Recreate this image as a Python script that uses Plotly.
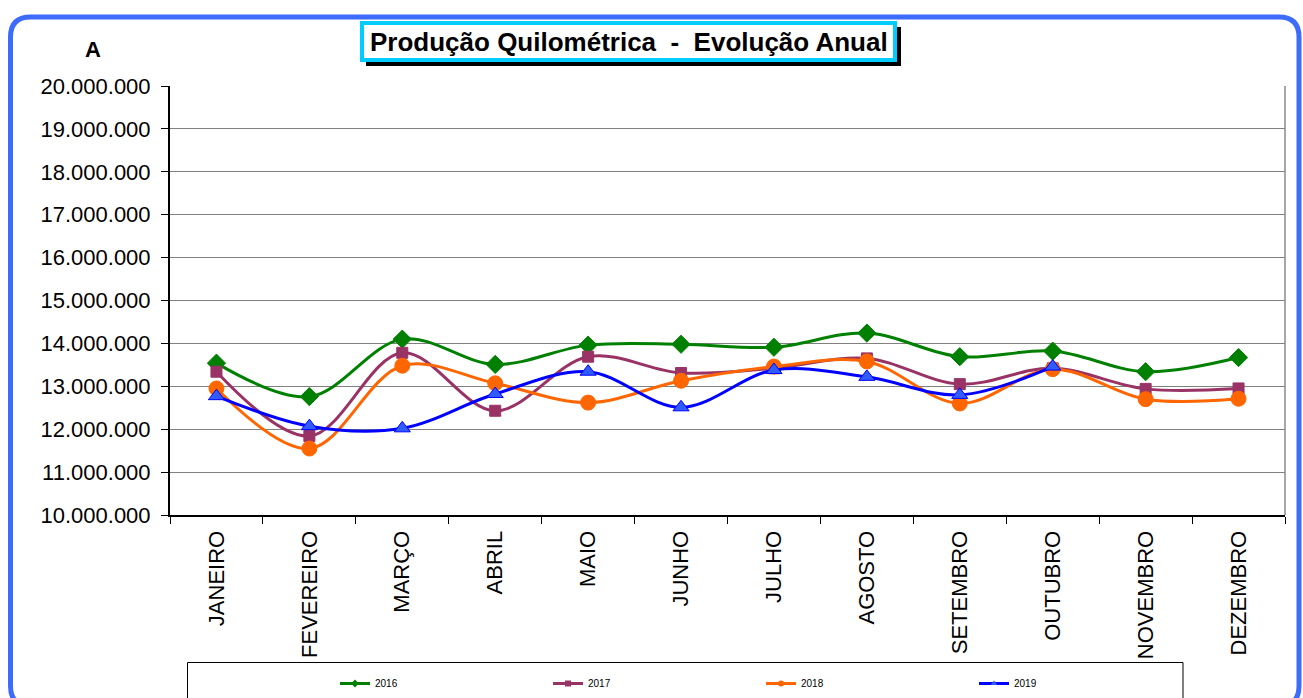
import plotly.graph_objects as go

months = ["JANEIRO", "FEVEREIRO", "MARÇO", "ABRIL", "MAIO", "JUNHO", "JULHO",
          "AGOSTO", "SETEMBRO", "OUTUBRO", "NOVEMBRO", "DEZEMBRO"]
v2016 = [13540000, 12760000, 14100000, 13510000, 13960000, 13980000, 13910000,
         14240000, 13690000, 13820000, 13340000, 13670000]
v2017 = [13340000, 11840000, 13780000, 12430000, 13690000, 13310000, 13420000,
         13650000, 13050000, 13420000, 12940000, 12950000]
v2018 = [12950000, 11550000, 13480000, 13070000, 12620000, 13130000, 13460000,
         13580000, 12600000, 13400000, 12700000, 12710000]
v2019 = [12770000, 12070000, 12020000, 12820000, 13340000, 12510000, 13380000,
         13220000, 12800000, 13460000, None, None]

series = [
    ("2016", v2016, "#008000", "diamond", 14, "#008000"),
    ("2017", v2017, "#993366", "square", 11, "#993366"),
    ("2018", v2018, "#FF6600", "circle", 15, "#FF6600"),
    ("2019", v2019, "#0000FF", "triangle-up", 14, "#2F5BFF"),
]

W, H = 1303, 698
L, R, T, B = 170, 1285, 86, 515
PW, PH = R - L, B - T


def px(x):
    return (x - L) / PW


def py(y):
    return (B - y) / PH


FONT = "Arial, 'Liberation Sans', sans-serif"

fig = go.Figure()
for name, vals, col, sym, size, mcol in series:
    fig.add_trace(go.Scatter(
        x=months, y=vals, name=name, mode="lines+markers",
        line=dict(color=col, width=3, shape="spline", smoothing=1),
        marker=dict(symbol=sym, size=size, color=mcol, line=dict(color=col, width=1)),
        showlegend=False, connectgaps=False))
    # legend entry
    fig.add_trace(go.Scatter(
        x=[None], y=[None], name=name, mode="lines+markers",
        line=dict(color=col, width=3),
        marker=dict(symbol=sym, size=6, color=mcol),
        showlegend=True))

shapes = []
# rounded outer blue border
x0, y0, x1, y1, r = 10.5, 17, 1299, 706, 20
path = (f"M {px(x0 + r)},{py(y0)} L {px(x1 - r)},{py(y0)} Q {px(x1)},{py(y0)} {px(x1)},{py(y0 + r)} "
        f"L {px(x1)},{py(y1 - r)} Q {px(x1)},{py(y1)} {px(x1 - r)},{py(y1)} "
        f"L {px(x0 + r)},{py(y1)} Q {px(x0)},{py(y1)} {px(x0)},{py(y1 - r)} "
        f"L {px(x0)},{py(y0 + r)} Q {px(x0)},{py(y0)} {px(x0 + r)},{py(y0)} Z")
shapes.append(dict(type="path", xref="paper", yref="paper", path=path,
                   line=dict(color="#3D6BFB", width=5), layer="below"))
# title shadow and box
shapes.append(dict(type="rect", xref="paper", yref="paper",
                   x0=px(366), x1=px(901), y0=py(27), y1=py(66),
                   fillcolor="black", line=dict(width=0), layer="below"))
shapes.append(dict(type="rect", xref="paper", yref="paper",
                   x0=px(362), x1=px(895), y0=py(23), y1=py(60),
                   fillcolor="white", line=dict(color="#00CCFF", width=4), layer="below"))
# right border of plot
shapes.append(dict(type="line", xref="paper", yref="paper", x0=1, x1=1, y0=0, y1=1,
                   line=dict(color="#8a8a8a", width=1.5)))
# legend box
shapes.append(dict(type="rect", xref="paper", yref="paper",
                   x0=px(187.5), x1=px(1183), y0=py(662.5), y1=py(710),
                   fillcolor="rgba(0,0,0,0)", line=dict(color="black", width=1)))

annotations = [
    dict(text="<b>Produção Quilométrica\u00a0\u00a0-\u00a0\u00a0Evolução Anual</b>",
         xref="paper", yref="paper", x=px(628.5), y=py(42), showarrow=False,
         xanchor="center", yanchor="middle", font=dict(family=FONT, size=26, color="black")),
    dict(text="<b>A</b>", xref="paper", yref="paper", x=px(93), y=py(50), showarrow=False,
         xanchor="center", yanchor="middle", font=dict(family=FONT, size=22, color="black")),
]

fig.update_layout(
    width=W, height=H,
    margin=dict(l=L, r=W - R, t=T, b=H - B, autoexpand=False),
    paper_bgcolor="white", plot_bgcolor="white",
    separators=",.",
    shapes=shapes, annotations=annotations,
    font=dict(family=FONT, color="black"),
    legend=dict(orientation="h", x=px(335), y=py(669), xanchor="left", yanchor="top",
                entrywidth=168, entrywidthmode="pixels",
                font=dict(family=FONT, size=10),
                bgcolor="rgba(0,0,0,0)", borderwidth=0),
)
fig.update_xaxes(
    type="category", range=[-0.5, 11.5], tickangle=-90,
    tickfont=dict(family=FONT, size=22, color="black"),
    ticks="outside", ticklen=7, tickcolor="black", tickson="boundaries",
    showline=True, linecolor="black", linewidth=2, showgrid=False,
    ticklabelstandoff=5,
)
fig.update_yaxes(
    range=[10000000, 20000000], dtick=1000000, tickformat=",d",
    tickfont=dict(family=FONT, size=22, color="black"),
    ticks="outside", ticklen=7, tickcolor="black",
    showline=True, linecolor="black", linewidth=2,
    showgrid=True, gridcolor="#808080", gridwidth=1, zeroline=False,
    ticklabelstandoff=6,
)

fig.write_html("out.html", config={"displayModeBar": False},
               post_script="document.body.style.margin='0';document.body.style.overflow='hidden';")
